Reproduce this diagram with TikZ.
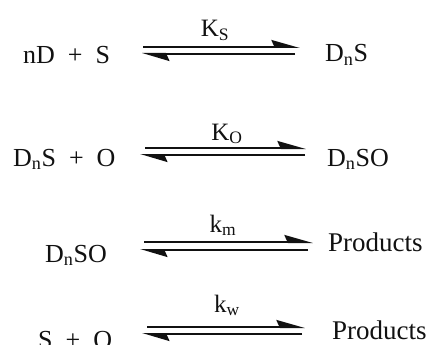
\documentclass[tikz,border=0pt]{standalone}
\usepackage{fontspec}
\setmainfont{Liberation Serif}
\usepackage{tikz}
\usetikzlibrary{arrows.meta}
\definecolor{tinta}{HTML}{111111}
\newcommand{\sbi}[1]{\textsubscript{#1}}
\newcommand{\mas}{\hspace{0.5em}+\hspace{0.5em}}
\tikzset{
  especie/.style={anchor=base west,inner sep=0pt,text=tinta,font=\fontsize{26}{30}\selectfont},
  producto/.style={especie,font=\fontsize{27}{31}\selectfont},
  constante/.style={anchor=base,inner sep=0pt,text=tinta,font=\fontsize{25}{29}\selectfont},
  ida/.style={draw=tinta,line width=2pt,-{Stealth[harpoon,length=25pt,width=14pt,inset=3pt]}},
  vuelta/.style={draw=tinta,line width=2pt,-{Stealth[harpoon,length=24pt,width=14pt,inset=3pt]}},
}

\begin{document}
\begin{tikzpicture}[x=1pt,y=-1pt]
\useasboundingbox (0,0) rectangle (426,345);
% primera reaccion
\node[especie] (r1) at (23,64) {nD\mas S};
\node[especie] (p1) at (325,62) {D\sbi{n}S};
\coordinate (i1a) at (143,47);
\coordinate (i1b) at (300,47);
\coordinate (v1a) at (295,54);
\coordinate (v1b) at (142,54);
\draw[ida] (i1a) -- (i1b);
\draw[vuelta] (v1a) -- (v1b);
\node[constante] (c1) at (215,37) {K\sbi{S}};
% segunda reaccion
\node[especie] (r2) at (13,166) {D\sbi{n}S\mas O};
\node[especie] (p2) at (327,166) {D\sbi{n}SO};
\coordinate (i2a) at (145,148);
\coordinate (i2b) at (306,148);
\coordinate (v2a) at (305,155);
\coordinate (v2b) at (140,155);
\draw[ida] (i2a) -- (i2b);
\draw[vuelta] (v2a) -- (v2b);
\node[constante] (c2) at (227,140) {K\sbi{O}};
% tercera reaccion
\node[especie] (r3) at (45,262) {D\sbi{n}SO};
\node[producto] (p3) at (328,251) {Products};
\coordinate (i3a) at (144,242);
\coordinate (i3b) at (313,242);
\coordinate (v3a) at (308,250);
\coordinate (v3b) at (140,250);
\draw[ida] (i3a) -- (i3b);
\draw[vuelta] (v3a) -- (v3b);
\node[constante] (c3) at (223,232) {k\sbi{m}};
% cuarta reaccion
\node[especie] (r4) at (38,348) {S\mas O};
\node[producto] (p4) at (332,339) {Products};
\coordinate (i4a) at (147,327);
\coordinate (i4b) at (305,327);
\coordinate (v4a) at (302,334);
\coordinate (v4b) at (142,334);
\draw[ida] (i4a) -- (i4b);
\draw[vuelta] (v4a) -- (v4b);
\node[constante] (c4) at (227,312) {k\sbi{w}};
\end{tikzpicture}
\end{document}
